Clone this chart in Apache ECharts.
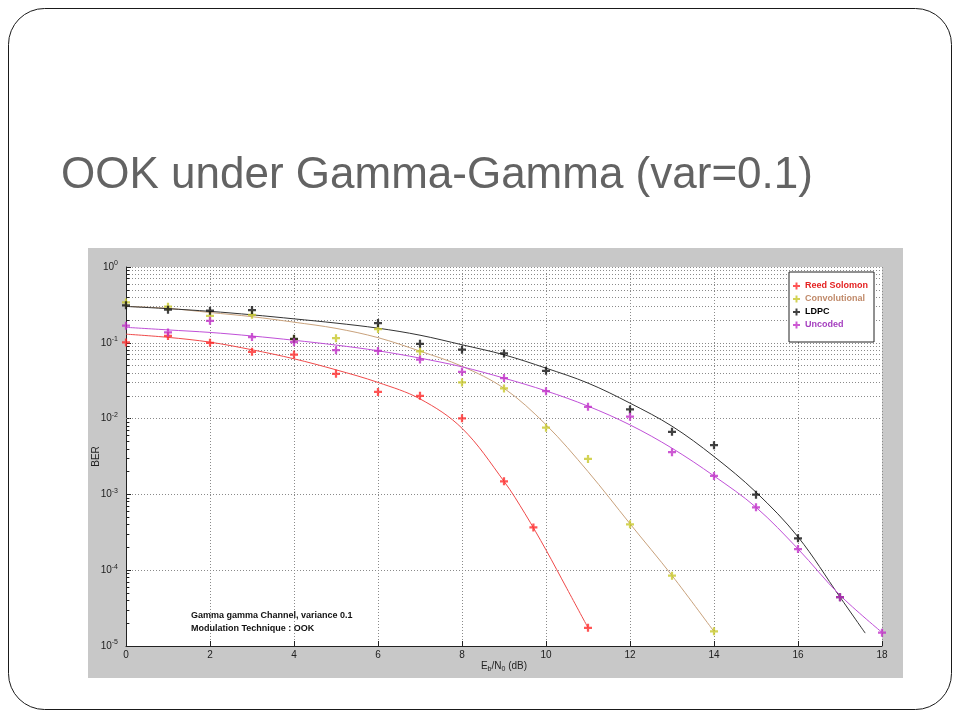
<!DOCTYPE html>
<html><head><meta charset="utf-8">
<script src="https://cdn.jsdelivr.net/npm/echarts@6/dist/echarts.min.js"></script>
<style>html,body{margin:0;padding:0;background:#fff}#c{width:960px;height:720px}</style>
</head><body><div id="c"></div>
<script>
// ---------- data ----------
const titleText = 'OOK under Gamma-Gamma (var=0.1)';
const seriesNames = ['Reed Solomon', 'Convolutional', 'LDPC', 'Uncoded'];
const noteLines = ['Gamma gamma Channel, variance 0.1', 'Modulation Technique : OOK'];

// measured points (markers)
const rsX = [0, 1, 2, 3, 4, 5, 6, 7, 8, 9, 9.7, 11];
const rsY = [0.101, 0.123, 0.100, 0.076, 0.070, 0.039, 0.0225, 0.020, 0.0101, 0.00149, 0.000367, 0.0000174];

const convX = [0, 1, 2, 3, 4, 5, 6, 7, 8, 9, 10, 11, 12, 13, 14];
const convY = [0.341, 0.30, 0.227, 0.234, 0.112, 0.115, 0.152, 0.077, 0.030, 0.025, 0.0076, 0.00294, 0.000403, 0.0000845, 0.0000156];

const ldpcX = [0, 1, 2, 3, 4, 6, 7, 8, 9, 10, 12, 13, 14, 15, 16, 17];
const ldpcY = [0.312, 0.273, 0.265, 0.27, 0.113, 0.182, 0.097, 0.081, 0.0724, 0.0427, 0.0132, 0.0067, 0.00446, 0.000993, 0.000263, 0.000044];

const uncX = [0, 1, 2, 3, 4, 5, 6, 7, 8, 9, 10, 11, 12, 13, 14, 15, 16, 17, 18];
const uncY = [0.168, 0.137, 0.195, 0.119, 0.102, 0.080, 0.078, 0.060, 0.0414, 0.0342, 0.023, 0.0143, 0.0106, 0.0036, 0.00175, 0.000676, 0.00019, 0.000044, 0.000015];

// fitted curves
const rsFitX = [0, 1, 2, 3, 4, 5, 6, 7, 8, 9, 9.5, 10, 10.5, 11];
const rsFitY = [0.130, 0.118, 0.102, 0.0809, 0.0615, 0.0440, 0.0300, 0.0182, 0.00746, 0.00149, 0.000557, 0.000185, 0.0000569, 0.0000174];

const convFitX = [0, 1, 2, 3, 4, 5, 6, 7, 8, 9, 10, 11, 12, 13, 14];
const convFitY = [0.302, 0.285, 0.251, 0.221, 0.187, 0.155, 0.117, 0.0776, 0.049, 0.0251, 0.0083, 0.0020, 0.00041, 0.000085, 0.0000155];

const ldpcFitX = [0, 1, 2, 3, 4, 5, 6, 7, 8, 9, 10, 11, 12, 13, 14, 15, 16, 17, 17.6];
const ldpcFitY = [0.302, 0.282, 0.260, 0.234, 0.207, 0.182, 0.156, 0.126, 0.0942, 0.0695, 0.0463, 0.0294, 0.0160, 0.00794, 0.00316, 0.00107, 0.000275, 0.0000442, 0.0000148];

const uncFitX = [0, 1, 2, 3, 4, 5, 6, 7, 8, 9, 10, 11, 12, 13, 14, 15, 16, 17, 18];
const uncFitY = [0.160, 0.148, 0.137, 0.123, 0.108, 0.0933, 0.0785, 0.0628, 0.0482, 0.0342, 0.0232, 0.0146, 0.00826, 0.00407, 0.00175, 0.000676, 0.000191, 0.0000468, 0.0000151];

// ---------- styling ----------
const markerColors = ['#ff2a2a', '#c8c82a', '#111111', '#c030c8'];
const lineColors = ['#f04a4a', '#c9a27c', '#333333', '#c050d8'];
const legendTextColors = ['#e42222', '#c08a6a', '#000000', '#a53fbf'];
const plusPath = 'path://M3.6,0H6.4V3.6H10V6.4H6.4V10H3.6V6.4H0V3.6H3.6Z';

const zip = (xs, ys) => xs.map((x, i) => [x, ys[i]]);
const pts = [zip(rsX, rsY), zip(convX, convY), zip(ldpcX, ldpcY), zip(uncX, uncY)];
const fits = [zip(rsFitX, rsFitY), zip(convFitX, convFitY), zip(ldpcFitX, ldpcFitY), zip(uncFitX, uncFitY)];

// minor grid (2..9 x 10^n)
const minorVals = [];
for (let d = -5; d < 0; d++) for (let m = 2; m <= 9; m++) minorVals.push(m * Math.pow(10, d));

const gridDot = { color: '#8a8a8a', width: 1, type: [1, 2] };

const series = [];
fits.forEach((f, i) => {
  series.push({
    name: seriesNames[i] + ' fit', type: 'line', data: f, smooth: 0.35,
    showSymbol: false, symbol: 'none', silent: true, z: 3,
    lineStyle: { color: lineColors[i], width: 1 }
  });
});
// minor grid lines + minor ticks
series[0].markLine = {
  silent: true, symbol: ['none', 'none'], animation: false, label: { show: false }, z: 1,
  data: minorVals.map(v => ({ yAxis: v, lineStyle: gridDot }))
    .concat(minorVals.map(v => [
      { coord: [0, v], lineStyle: { color: '#222', width: 1, type: 'solid' } },
      { coord: [0.08, v] }
    ]))
};
pts.forEach((p, i) => {
  series.push({
    name: seriesNames[i], type: 'scatter', data: p, symbol: plusPath, symbolSize: 8, z: 5,
    itemStyle: { color: markerColors[i] }
  });
});

const chart = echarts.init(document.getElementById('c'), null, { renderer: 'canvas' });
chart.setOption({
  animation: false,
  backgroundColor: '#ffffff',
  title: {
    text: titleText, left: 56, top: 149,
    textStyle: { fontFamily: 'Liberation Sans', fontWeight: 'normal', fontSize: 44, color: '#636363' }
  },
  graphic: [
    { type: 'rect', z: -20, silent: true, shape: { x: 8.5, y: 8.5, width: 943, height: 701, r: 36 },
      style: { fill: '#ffffff', stroke: '#1a1a1a', lineWidth: 1 } },
    { type: 'rect', z: -10, silent: true, shape: { x: 88, y: 248, width: 815, height: 430 },
      style: { fill: '#c8c8c8' } },
    { type: 'text', z: 10, left: 191, top: 609, silent: true,
      style: { text: noteLines.join('\n'), fontFamily: 'Liberation Sans', fontWeight: 'bold', fontSize: 9, lineHeight: 13, fill: '#111' } }
  ],
  grid: { left: 126, top: 267, width: 756, height: 379, show: true, backgroundColor: '#ffffff', borderWidth: 0 },
  legend: {
    z: 20,
    data: seriesNames.map((n, i) => ({ name: n, textStyle: { color: legendTextColors[i] } })),
    orient: 'vertical', left: 789, top: 272, icon: plusPath, itemWidth: 7, itemHeight: 7, itemGap: 1,
    backgroundColor: '#ffffff', borderColor: '#222', borderWidth: 1, padding: [8, 6, 11, 4],
    textStyle: { fontFamily: 'Liberation Sans', fontWeight: 'bold', fontSize: 9, lineHeight: 12 }
  },
  xAxis: {
    type: 'value', min: 0, max: 18, interval: 2,
    name: '{n|E}{s|b}{n|/N}{s|0}{n| (dB)}', nameLocation: 'middle', nameGap: 14, nameMoveOverlap: false,
    nameTextStyle: {
      rich: {
        n: { fontFamily: 'Liberation Sans', fontSize: 10, color: '#222' },
        s: { fontFamily: 'Liberation Sans', fontSize: 7, color: '#222', padding: [6, 0, 0, 0] }
      }
    },
    axisLine: { show: true, onZero: false, lineStyle: { color: '#222', width: 1 } },
    axisTick: { show: true, inside: true, length: 5, lineStyle: { color: '#222' } },
    axisLabel: { margin: 4, fontFamily: 'Liberation Sans', fontSize: 10, color: '#222' },
    splitLine: { show: true, lineStyle: gridDot }
  },
  yAxis: {
    type: 'log', logBase: 10, min: 0.00001, max: 1,
    name: 'BER', nameLocation: 'middle', nameGap: 25, nameMoveOverlap: false,
    nameTextStyle: { fontFamily: 'Liberation Sans', fontSize: 10, color: '#222' },
    axisLine: { show: true, onZero: false, lineStyle: { color: '#222', width: 1 } },
    axisTick: { show: true, inside: true, length: 5, lineStyle: { color: '#222' } },
    axisLabel: {
      margin: 8, color: '#222',
      formatter: v => '{b|10}{e|' + Math.round(Math.log10(v)) + '}',
      rich: {
        b: { fontFamily: 'Liberation Sans', fontSize: 10, color: '#222' },
        e: { fontFamily: 'Liberation Sans', fontSize: 7, color: '#222', padding: [0, 0, 7, 0] }
      }
    },
    splitLine: { show: true, lineStyle: gridDot }
  },
  series: series
});
</script></body></html>
